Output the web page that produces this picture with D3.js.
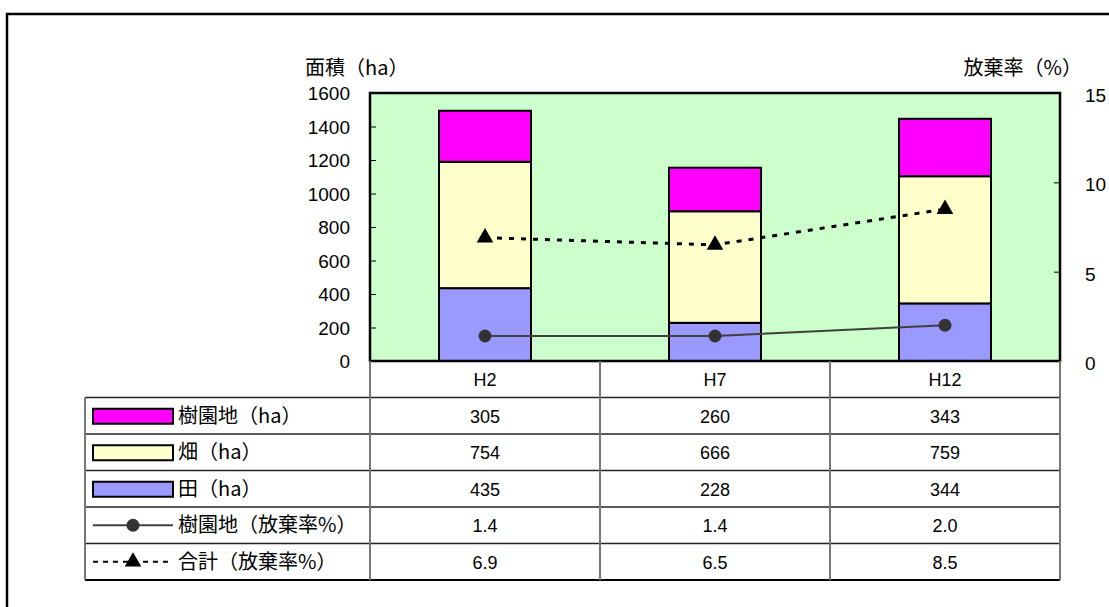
<!DOCTYPE html>
<html>
<head>
<meta charset="utf-8">
<script src="https://cdn.jsdelivr.net/npm/d3@7"></script>
<style>
  body { margin: 0; background: #fff; }
  text { fill: #000; }
  .jp { font-family: "Noto Sans CJK JP", sans-serif; }
  .num { font-family: "Liberation Sans", "DejaVu Sans", sans-serif; }
</style>
</head>
<body>
<div id="chart"></div>
<script>
// abandoned farmland by year
const years = ['H2', 'H7', 'H12'];
const orchard = [305, 260, 343];   // 樹園地(ha)
const field = [754, 666, 759];     // 畑(ha)
const paddy = [435, 228, 344];     // 田(ha)
const orchardRate = [1.4, 1.4, 2.0];  // 樹園地(放棄率%)
const totalRate = [6.9, 6.5, 8.5];    // 合計(放棄率%)
const leftTicks = [0, 200, 400, 600, 800, 1000, 1200, 1400, 1600];
const rightTicks = [0, 5, 10, 15];

const svg_width = 1109, svg_height = 607;
const plot = { left: 370, right: 1060, top: 93, bottom: 361 };
const tableLeft = 85, tableBottom = 580;

const svg = d3.select('#chart')
  .append('svg')
  .attr('width', svg_width)
  .attr('height', svg_height);

// outer frame
svg.append('rect')
  .attr('x', 7).attr('y', 14)
  .attr('width', 1300).attr('height', 800)
  .attr('fill', 'none')
  .attr('stroke', '#000')
  .attr('stroke-width', 2.5);

const x = d3.scaleBand()
  .domain(years)
  .range([plot.left, plot.right]);
const y = d3.scaleLinear()
  .domain([0, 1600])
  .range([plot.bottom, plot.top]);
const yR = d3.scaleLinear()
  .domain([0, 15])
  .range([plot.bottom, plot.top]);

svg.append('rect')
  .attr('x', plot.left).attr('y', plot.top)
  .attr('width', plot.right - plot.left)
  .attr('height', plot.bottom - plot.top)
  .attr('fill', '#ccffcc');

// stacked bars
const series = [
  { name: '田（ha）', values: paddy, color: '#9999ff' },
  { name: '畑（ha）', values: field, color: '#ffffcc' },
  { name: '樹園地（ha）', values: orchard, color: '#ff00ff' }
];
const barW = x.bandwidth() * 0.4;
years.forEach(function (yr, i) {
  let base = 0;
  series.forEach(function (s) {
    const v = s.values[i];
    svg.append('rect')
      .attr('x', x(yr) + (x.bandwidth() - barW) / 2)
      .attr('y', y(base + v))
      .attr('width', barW)
      .attr('height', y(base) - y(base + v))
      .attr('fill', s.color)
      .attr('stroke', '#000')
      .attr('stroke-width', 2);
    base += v;
  });
});

// axes
const leftAxis = svg.append('g')
  .attr('transform', 'translate(' + plot.left + ',0)')
  .call(d3.axisLeft(y).tickValues(leftTicks).tickFormat(d3.format('d'))
    .tickSizeInner(-6).tickSizeOuter(0).tickPadding(20));
leftAxis.select('.domain').remove();
leftAxis.selectAll('line').attr('stroke', '#000');
leftAxis.selectAll('text').attr('class', 'num').style('font-size', '19px').attr('dy', '0.36em');

const rightAxis = svg.append('g')
  .attr('transform', 'translate(' + plot.right + ',0)')
  .call(d3.axisRight(yR).tickValues(rightTicks).tickFormat(d3.format('d'))
    .tickSizeInner(-6).tickSizeOuter(0).tickPadding(25));
rightAxis.select('.domain').remove();
rightAxis.selectAll('line').attr('stroke', '#000');
rightAxis.selectAll('text').attr('class', 'num').style('font-size', '19px').attr('dy', '0.45em');

svg.append('rect')
  .attr('x', plot.left).attr('y', plot.top)
  .attr('width', plot.right - plot.left)
  .attr('height', plot.bottom - plot.top)
  .attr('fill', 'none')
  .attr('stroke', '#000')
  .attr('stroke-width', 2.5);

svg.append('text')
  .attr('class', 'jp')
  .attr('x', 305).attr('y', 75)
  .style('font-size', '20px')
  .text('面積（ha）');
svg.append('text')
  .attr('class', 'jp')
  .attr('x', 1082).attr('y', 75)
  .attr('text-anchor', 'end')
  .style('font-size', '20px')
  .text('放棄率（%）');

// rate lines
const cx = function (yr) { return x(yr) + x.bandwidth() / 2; };
const line = d3.line();
svg.append('path')
  .attr('d', line(years.map((yr, i) => [cx(yr), yR(totalRate[i])])))
  .attr('fill', 'none')
  .attr('stroke', '#000')
  .attr('stroke-width', 3)
  .attr('stroke-dasharray', '5,7');
svg.append('path')
  .attr('d', line(years.map((yr, i) => [cx(yr), yR(orchardRate[i])])))
  .attr('fill', 'none')
  .attr('stroke', '#404040')
  .attr('stroke-width', 2);

const tri = d3.symbol().type(d3.symbolTriangle).size(120);
svg.append('g').selectAll('path')
  .data(years)
  .enter()
  .append('path')
  .attr('d', tri)
  .attr('transform', (d, i) => 'translate(' + cx(d) + ',' + yR(totalRate[i]) + ')')
  .attr('fill', '#000');
svg.append('g').selectAll('circle')
  .data(years)
  .enter()
  .append('circle')
  .attr('cx', d => cx(d))
  .attr('cy', (d, i) => yR(orchardRate[i]))
  .attr('r', 6.5)
  .attr('fill', '#333');

// data table
const rows = [
  { label: '樹園地（ha）', values: orchard, key: 'rect', color: '#ff00ff', fmt: d3.format('d') },
  { label: '畑（ha）', values: field, key: 'rect', color: '#ffffcc', fmt: d3.format('d') },
  { label: '田（ha）', values: paddy, key: 'rect', color: '#9999ff', fmt: d3.format('d') },
  { label: '樹園地（放棄率%）', values: orchardRate, key: 'circle', fmt: d3.format('.1f') },
  { label: '合計（放棄率%）', values: totalRate, key: 'triangle', fmt: d3.format('.1f') }
];
const rowY = d3.scaleBand()
  .domain(['head'].concat(rows.map(r => r.label)))
  .range([plot.bottom, tableBottom]);
const rh = rowY.bandwidth();

const grid = svg.append('g');
// horizontal rules
rows.forEach(function (r) {
  grid.append('line')
    .attr('x1', tableLeft).attr('x2', plot.right)
    .attr('y1', rowY(r.label)).attr('y2', rowY(r.label))
    .attr('stroke', '#222').attr('stroke-width', 1.5);
});
grid.append('line')
  .attr('x1', tableLeft).attr('x2', plot.right)
  .attr('y1', tableBottom).attr('y2', tableBottom)
  .attr('stroke', '#000').attr('stroke-width', 2);
// vertical rules
grid.append('line')
  .attr('x1', tableLeft).attr('x2', tableLeft)
  .attr('y1', rowY(rows[0].label)).attr('y2', tableBottom)
  .attr('stroke', '#777').attr('stroke-width', 2);
[plot.left].concat(years.map(yr => x(yr) + x.bandwidth())).forEach(function (xv) {
  grid.append('line')
    .attr('x1', xv).attr('x2', xv)
    .attr('y1', plot.bottom).attr('y2', tableBottom)
    .attr('stroke', '#777').attr('stroke-width', 2);
});

// category header
svg.append('g').selectAll('text')
  .data(years)
  .enter()
  .append('text')
  .attr('class', 'num')
  .attr('x', d => cx(d))
  .attr('y', rowY('head') + rh / 2)
  .attr('dy', '0.38em')
  .attr('text-anchor', 'middle')
  .style('font-size', '18px')
  .text(d => d);

rows.forEach(function (r) {
  const my = rowY(r.label) + rh / 2;
  if (r.key === 'rect') {
    svg.append('rect')
      .attr('x', 93).attr('y', my - 7)
      .attr('width', 80).attr('height', 15)
      .attr('fill', r.color)
      .attr('stroke', '#000')
      .attr('stroke-width', 2);
  } else if (r.key === 'circle') {
    svg.append('line')
      .attr('x1', 93).attr('x2', 173)
      .attr('y1', my).attr('y2', my)
      .attr('stroke', '#404040').attr('stroke-width', 2);
    svg.append('circle')
      .attr('cx', 133).attr('cy', my).attr('r', 6.5).attr('fill', '#333');
  } else {
    svg.append('line')
      .attr('x1', 93).attr('x2', 173)
      .attr('y1', my).attr('y2', my)
      .attr('stroke', '#000').attr('stroke-width', 2)
      .attr('stroke-dasharray', '5,5');
    svg.append('path')
      .attr('d', tri)
      .attr('transform', 'translate(133,' + my + ')')
      .attr('fill', '#000');
  }
  svg.append('text')
    .attr('class', 'jp')
    .attr('x', 178).attr('y', my)
    .attr('dy', '0.36em')
    .style('font-size', '20px')
    .text(r.label);
  svg.append('g').selectAll('text')
    .data(years)
    .enter()
    .append('text')
    .attr('class', 'num')
    .attr('x', d => cx(d))
    .attr('y', my)
    .attr('dy', '0.38em')
    .attr('text-anchor', 'middle')
    .style('font-size', '18px')
    .text((d, i) => r.fmt(r.values[i]));
});
</script>
</body>
</html>
